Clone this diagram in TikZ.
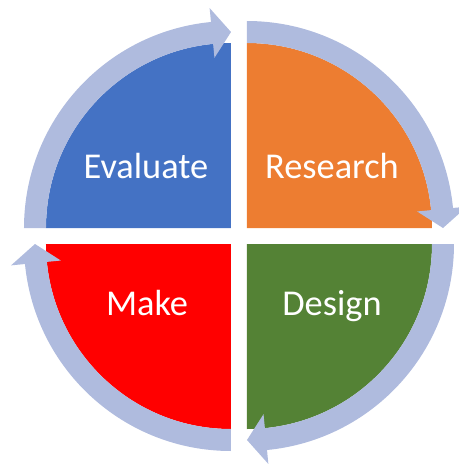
\documentclass[tikz,border=0pt]{standalone}
\usepackage{fontspec}
\setmainfont{Carlito}
\definecolor{evalblue}{RGB}{68,114,196}
\definecolor{researchorange}{RGB}{237,125,49}
\definecolor{designgreen}{RGB}{84,130,53}
\definecolor{makered}{RGB}{255,0,0}
\definecolor{cycleblue}{RGB}{175,187,222}
\begin{document}
\begin{tikzpicture}[scale=0.02]
    \tikzstyle{every node}+=[inner sep=0pt]
    \tikzstyle{phase}=[text=white, anchor=base, font=\fontsize{20.7}{24}\selectfont]
    \tikzstyle{cycle}=[fill=cycleblue]
    \useasboundingbox (-239,-230) rectangle (220,236);
    % quarters
    \fill [evalblue] (-8,8) -- ++(-185,0) arc (180:90:185) -- cycle;
    \fill [researchorange] (8,8) -- ++(0,185) arc (90:0:185) -- cycle;
    \fill [designgreen] (8,-8) -- ++(185,0) arc (0:-90:185) -- cycle;
    \fill [makered] (-8,-8) -- ++(0,-185) arc (-90:-180:185) -- cycle;
    % cycle arrows
    \begin{scope}[shift={(-8,8)}]
    \fill [cycle] (180:207) arc (180:95.55:207) -- (95.55:221) -- (90:196) -- (95.55:171) -- (95.55:185) arc (95.55:180:185) -- cycle;
    \end{scope}
    \begin{scope}[shift={(8,8)}]
    \fill [cycle] (90:207) arc (90:5.55:207) -- (5.55:221) -- (0:196) -- (5.55:171) -- (5.55:185) arc (5.55:90:185) -- cycle;
    \end{scope}
    \begin{scope}[shift={(8,-8)}]
    \fill [cycle] (0:207) arc (0:-84.45:207) -- (-84.45:221) -- (-90:196) -- (-84.45:171) -- (-84.45:185) arc (-84.45:0:185) -- cycle;
    \end{scope}
    \begin{scope}[shift={(-8,-8)}]
    \fill [cycle] (-90:207) arc (-90:-174.45:207) -- (-174.45:221) -- (-180:196) -- (-174.45:171) -- (-174.45:185) arc (-174.45:-90:185) -- cycle;
    \end{scope}
    % labels
    \node [phase] (evaluate) at (-93,58) {Evaluate};
    \node [phase] (research) at (93,58) {Research};
    \node [phase] (design) at (93,-79) {Design};
    \node [phase] (make) at (-92,-79) {Make};
\end{tikzpicture}
\end{document}
